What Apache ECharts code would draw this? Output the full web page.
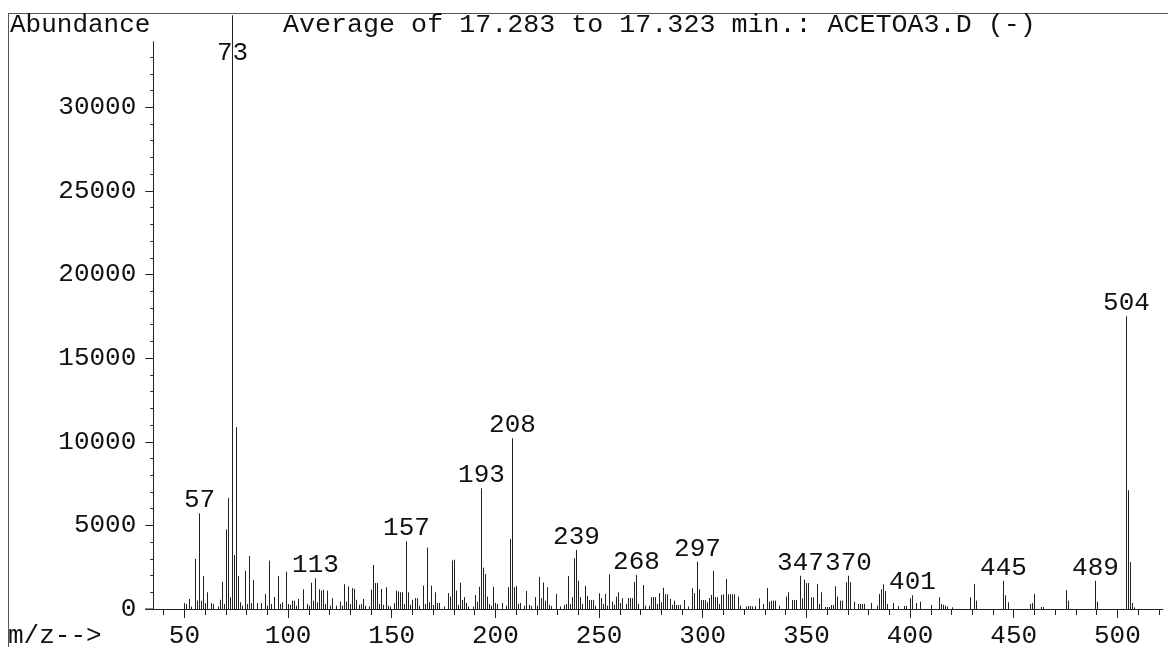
<!DOCTYPE html>
<html>
<head>
<meta charset="utf-8">
<title>ACETOA3.D</title>
<script src="https://cdn.jsdelivr.net/npm/echarts@6.0.0/dist/echarts.min.js"></script>
<style>
html, body { margin: 0; padding: 0; background: #fff; }
#main { width: 1168px; height: 647px; }
</style>
</head>
<body>
<div id="main"></div>
<script>
// spectrum: m/z and abundance, same order
var massCharge = [
  50, 51, 52, 53, 55, 56, 57, 58, 59, 60, 61, 63, 64, 66, 67, 68, 69, 70, 71, 72,
  73, 74, 75, 76, 77, 78, 79, 80, 81, 82, 83, 85, 87, 89, 90, 91, 92, 93, 95, 96,
  97, 99, 100, 101, 102, 103, 104, 105, 107, 109, 110, 111, 112, 113, 114, 115, 116, 117, 118, 119,
  120, 121, 123, 125, 126, 127, 128, 129, 130, 131, 132, 133, 134, 135, 136, 137, 139, 140, 141, 142,
  143, 144, 145, 146, 147, 148, 149, 151, 152, 153, 154, 155, 156, 157, 158, 159, 160, 161, 162, 163,
  165, 166, 167, 168, 169, 170, 171, 172, 173, 175, 177, 178, 179, 180, 181, 182, 183, 184, 185, 186,
  187, 189, 190, 191, 192, 193, 194, 195, 196, 197, 198, 199, 200, 201, 203, 205, 206, 207, 208, 209,
  210, 211, 212, 214, 215, 216, 217, 219, 220, 221, 222, 223, 224, 225, 226, 227, 229, 231, 233, 234,
  235, 236, 237, 238, 239, 240, 241, 242, 243, 244, 245, 246, 247, 248, 250, 251, 252, 253, 254, 255,
  256, 257, 258, 259, 260, 261, 263, 264, 265, 266, 267, 268, 269, 271, 272, 274, 275, 276, 277, 278,
  279, 280, 281, 282, 283, 284, 285, 286, 287, 288, 289, 291, 293, 295, 296, 297, 298, 299, 300, 301,
  302, 303, 304, 305, 306, 307, 308, 309, 310, 311, 312, 313, 314, 315, 317, 318, 321, 322, 323, 324,
  325, 327, 329, 331, 332, 333, 334, 335, 337, 340, 341, 343, 344, 345, 347, 348, 349, 350, 351, 352,
  353, 355, 356, 357, 359, 360, 361, 362, 363, 364, 365, 366, 367, 369, 370, 371, 373, 375, 376, 377,
  378, 381, 384, 385, 386, 387, 388, 389, 392, 394, 397, 398, 400, 401, 403, 405, 410, 414, 415, 416,
  417, 418, 420, 429, 431, 432, 445, 446, 447, 458, 459, 460, 463, 464, 475, 476, 489, 490, 504, 505,
  506, 507, 508
];
var abundance = [
  350, 300, 600, 150, 3000, 500, 5720, 500, 1970, 350, 1000, 350, 300, 150, 550, 1630, 300, 4760, 6640, 700,
  35500, 3230, 10870, 1970, 400, 200, 2290, 300, 3170, 350, 1730, 350, 350, 900, 200, 2890, 300, 720, 1970, 300,
  400, 2230, 300, 250, 500, 500, 200, 600, 1180, 300, 200, 1570, 500, 1835, 400, 1180, 1100, 1150, 300, 1100,
  200, 650, 200, 450, 200, 1480, 450, 1350, 300, 1250, 1200, 550, 250, 300, 600, 200, 150, 1150, 2630, 1550,
  1550, 300, 1200, 250, 1300, 200, 150, 350, 1100, 1050, 1000, 1000, 300, 4050, 1000, 250, 550, 650, 650, 200,
  1400, 300, 3670, 400, 1400, 250, 1000, 360, 360, 150, 950, 740, 2900, 2950, 1100, 250, 1570, 540, 710, 360,
  150, 150, 840, 440, 1330, 7220, 2470, 2090, 740, 300, 200, 1330, 360, 300, 360, 200, 1300, 4190, 10210, 1300,
  1380, 300, 360, 200, 1075, 250, 180, 710, 200, 1930, 650, 1590, 500, 1300, 250, 180, 900, 150, 240, 300,
  1970, 300, 710, 3030, 3530, 1690, 710, 300, 1380, 780, 540, 540, 540, 200, 940, 650, 300, 900, 200, 2070,
  440, 250, 740, 1000, 360, 650, 300, 650, 650, 650, 1630, 2030, 300, 1430, 200, 200, 710, 710, 710, 300,
  950, 400, 1270, 880, 880, 600, 250, 500, 240, 240, 240, 540, 150, 1240, 950, 2830, 1180, 540, 540, 540,
  400, 650, 840, 2290, 710, 710, 300, 840, 880, 1800, 880, 880, 880, 880, 740, 200, 150, 180, 180, 150,
  180, 640, 300, 1250, 440, 500, 500, 500, 200, 740, 1000, 540, 540, 540, 1990, 640, 1750, 1550, 1550, 700,
  700, 1500, 300, 1000, 120, 120, 120, 240, 240, 1360, 740, 500, 500, 1600, 1990, 1600, 440, 300, 300, 300,
  300, 360, 200, 900, 1180, 1480, 1075, 300, 360, 180, 180, 180, 640, 820, 360, 440, 240, 700, 300, 250,
  200, 150, 100, 700, 1500, 500, 1690, 820, 400, 300, 360, 900, 120, 120, 1130, 500, 1690, 440, 17500, 7100,
  2800, 360, 100
];
var peakLabels = [57, 73, 113, 157, 193, 208, 239, 268, 297, 347, 370, 401, 445, 489, 504];

var xMajorTicks = [50, 100, 150, 200, 250, 300, 350, 400, 450, 500];
var yMajorTicks = [0, 5000, 10000, 15000, 20000, 25000, 30000];
var xMinorTicks = [];
for (var t = 40; t <= 520; t += 10) xMinorTicks.push(t);
var yMinorTicks = [];
for (var u = 1000; u <= 33000; u += 1000) yMinorTicks.push(u);

var X_MIN = 35, X_MAX = 522, Y_MAX = 33920;
var FAMILY = '"Liberation Mono", "Courier New", monospace';
var FONT = '26px ' + FAMILY;
var INK = '#111';

var spectrum = massCharge.map(function (m, i) { return [m, abundance[i]]; });

var myChart = echarts.init(document.getElementById('main'));

var gridBox = { left: 153.3, right: 5, top: 41.7, bottom: 38, outerBoundsMode: 'none' };
var axisLine = { show: true, lineStyle: { color: '#222', width: 1 } };
var labelText = { color: INK, fontSize: 26, fontFamily: FAMILY, formatter: function (v) { return String(v); } };

var option = {
  backgroundColor: '#fff',
  animation: false,
  grid: [gridBox, gridBox],
  xAxis: [
    { // minor ticks + labels
      gridIndex: 0, type: 'value', min: X_MIN, max: X_MAX,
      axisLine: axisLine,
      axisTick: { show: true, customValues: xMinorTicks, length: 6, lineStyle: { color: '#222' } },
      axisLabel: Object.assign({ customValues: xMajorTicks, margin: 14 }, labelText),
      splitLine: { show: false }
    },
    { // longer ticks every 50
      gridIndex: 1, type: 'value', min: X_MIN, max: X_MAX,
      axisLine: { show: false },
      axisTick: { show: true, customValues: xMajorTicks, length: 9, lineStyle: { color: '#222' } },
      axisLabel: { show: false },
      splitLine: { show: false }
    }
  ],
  yAxis: [
    {
      gridIndex: 0, type: 'value', min: 0, max: Y_MAX,
      axisLine: axisLine,
      axisTick: { show: true, customValues: yMinorTicks, length: 3, lineStyle: { color: '#222' } },
      axisLabel: Object.assign({ customValues: yMajorTicks, margin: 17 }, labelText),
      splitLine: { show: false }
    },
    {
      gridIndex: 1, type: 'value', min: 0, max: Y_MAX,
      axisLine: { show: false },
      axisTick: { show: true, customValues: yMajorTicks, length: 8, lineStyle: { color: '#222' } },
      axisLabel: { show: false },
      splitLine: { show: false }
    }
  ],
  series: [{
    type: 'custom',
    xAxisIndex: 0,
    yAxisIndex: 0,
    clip: false,
    data: spectrum,
    encode: { x: 0, y: 1 },
    renderItem: function (params, api) {
      var mz = api.value(0);
      var base = api.coord([mz, 0]);
      var top = api.coord([mz, api.value(1)]);
      var x = Math.round(base[0]) + 0.5;
      var kids = [{
        type: 'line',
        shape: { x1: x, y1: base[1], x2: x, y2: top[1] },
        style: { stroke: '#222', lineWidth: 1 }
      }];
      if (peakLabels.indexOf(mz) >= 0) {
        // off-scale peak: label sits just under the top of the axis
        var ceil = api.coord([mz, Y_MAX])[1];
        var ty = top[1] < ceil ? ceil + 24 : top[1];
        kids.push({
          type: 'text',
          style: { text: String(mz), x: x, y: ty, align: 'center', verticalAlign: 'bottom', font: FONT, fill: INK }
        });
      }
      return { type: 'group', children: kids };
    }
  }],
  graphic: [
    { type: 'line', shape: { x1: 8, y1: 13.5, x2: 1168, y2: 13.5 }, style: { stroke: '#555', lineWidth: 1 } },
    { type: 'line', shape: { x1: 8.5, y1: 13, x2: 8.5, y2: 647 }, style: { stroke: '#555', lineWidth: 1 } },
    { type: 'line', shape: { x1: 145, y1: 609, x2: 154, y2: 609 }, style: { stroke: '#222', lineWidth: 1 } },
    { type: 'text', style: { text: 'Abundance', x: 10, y: 25, verticalAlign: 'middle', font: FONT, fill: INK } },
    { type: 'text', style: { text: 'Average of 17.283 to 17.323 min.: ACETOA3.D (-)', x: 283, y: 25, verticalAlign: 'middle', font: '26.7px ' + FAMILY, fill: INK } },
    { type: 'text', style: { text: 'm/z-->', x: 8, y: 636, verticalAlign: 'middle', font: FONT, fill: INK } }
  ]
};

myChart.setOption(option);
</script>
</body>
</html>
